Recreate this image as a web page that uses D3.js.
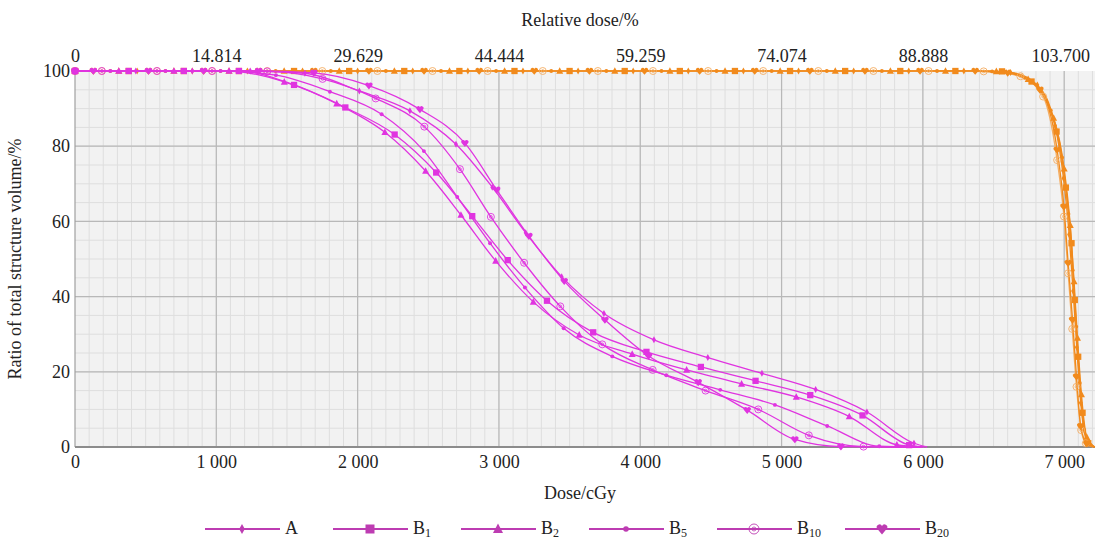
<!DOCTYPE html>
<html>
<head>
<meta charset="utf-8">
<script src="https://cdn.jsdelivr.net/npm/d3@7"></script>
<style>
  body { margin: 0; background: #fff; }
  svg, svg text { font-family: "Liberation Serif", "Times New Roman", Tinos, "DejaVu Serif", serif !important; fill: #222; }
</style>
</head>
<body>
<svg id="chart"></svg>
<script>
// Tick labels
const doseTicks = [0, 1000, 2000, 3000, 4000, 5000, 6000, 7000];
const relTickLabels = ["0", "14.814", "29.629", "44.444", "59.259", "74.074", "88.888", "103.700"];
const volTicks = [0, 20, 40, 60, 80, 100];

// Series names (legend)
const seriesKeys = ["A", "B1", "B2", "B5", "B10", "B20"];
const seriesBase = ["A", "B", "B", "B", "B", "B"];
const seriesSub = ["", "1", "2", "5", "10", "20"];

// Organ at risk curves (magenta) [dose cGy, volume %]
const oarA = [[0,100],[430,100],[830,100],[1240,100],[1627,99.4],[2012,94.7],[2370,89.4],[2696,80.5],[2953,69.1],[3189,57.0],[3444,45.3],[3743,35.5],[4097,28.5],[4478,23.8],[4861,19.6],[5241,15.3],[5604,9.3],[5937,1.0],[6030,0]];
const oarB1 = [[0,100],[380,100],[770,100],[1160,100],[1550,96.3],[1913,90.3],[2262,83.1],[2556,73.0],[2811,61.4],[3062,49.7],[3340,38.9],[3667,30.5],[4044,25.3],[4429,21.3],[4816,17.6],[5203,13.8],[5573,8.4],[5903,0.5],[6010,0]];
const oarB2 = [[0,100],[310,100],[700,100],[1090,100],[1481,97.1],[1852,91.3],[2193,83.7],[2481,73.4],[2731,61.7],[2977,49.5],[3243,38.6],[3568,29.8],[3943,24.7],[4328,20.5],[4717,16.8],[5104,13.3],[5479,8.1],[5816,0.6],[5990,0]];
const oarB5 = [[0,100],[250,100],[640,100],[1030,100],[1422,98.9],[1804,94.5],[2170,88.5],[2469,78.7],[2705,66.5],[2937,54.2],[3184,42.4],[3458,31.6],[3802,24.1],[4184,19.1],[4566,15.2],[4953,11.2],[5323,5.6],[5691,0.2],[5950,0]];
const oarB10 = [[0,100],[190,100],[580,100],[970,100],[1360,99.9],[1752,97.9],[2128,92.7],[2472,85.2],[2724,73.9],[2943,61.2],[3178,49.0],[3434,37.4],[3731,27.3],[4088,20.5],[4462,15.0],[4835,10.0],[5193,3.1],[5580,0.1],[5990,0]];
const oarB20 = [[0,100],[130,100],[520,100],[910,100],[1300,100],[1690,99.5],[2080,96.1],[2441,89.8],[2759,80.8],[2984,68.4],[3212,56.1],[3462,44.1],[3750,33.8],[4059,24.2],[4410,17.2],[4757,9.8],[5094,2.0],[5420,0.1],[5990,0]];

// Target curves (orange)
const ptvA = [[0,100],[440,100],[830,100],[1220,100],[1610,100],[2000,100],[2390,100],[2780,100],[3170,100],[3560,100],[3950,100],[4340,100],[4730,100],[5120,100],[5510,100],[5900,100],[6290,100],[6620,99.6],[6810,96.3],[6935,85.5],[6995,71.5],[7035,56.5],[7063,41.5],[7089,26.5],[7117,11.8],[7158,1.8],[7212,0]];
const ptvB1 = [[0,100],[380,100],[770,100],[1160,100],[1550,100],[1940,100],[2330,100],[2720,100],[3110,100],[3500,100],[3890,100],[4280,100],[4670,100],[5060,100],[5450,100],[5840,100],[6230,100],[6560,99.9],[6769,97.2],[6946,83.9],[7012,69.0],[7052,54.2],[7075,39.1],[7099,24.0],[7130,9.1],[7170,1.0],[7218,0]];
const ptvB2 = [[0,100],[310,100],[700,100],[1090,100],[1480,100],[1870,100],[2260,100],[2650,100],[3040,100],[3430,100],[3820,100],[4210,100],[4600,100],[4990,100],[5380,100],[5770,100],[6160,100],[6520,99.9],[6745,97.8],[6925,87.5],[7000,74.0],[7043,59.0],[7070,44.0],[7094,29.0],[7122,14.0],[7160,2.6],[7216,0]];
const ptvB5 = [[0,100],[250,100],[640,100],[1030,100],[1420,100],[1810,100],[2200,100],[2590,100],[2980,100],[3370,100],[3760,100],[4150,100],[4540,100],[4930,100],[5320,100],[5710,100],[6100,100],[6490,99.9],[6720,98.2],[6905,89.5],[6985,77.0],[7030,62.0],[7060,47.0],[7085,32.0],[7110,17.0],[7142,4.5],[7214,0]];
const ptvB10 = [[0,100],[190,100],[580,100],[970,100],[1360,100],[1750,100],[2140,100],[2530,100],[2920,100],[3310,100],[3700,100],[4090,100],[4480,100],[4870,100],[5260,100],[5650,100],[6040,100],[6430,99.9],[6690,98.6],[6851,93.2],[6950,76.3],[6998,61.3],[7028,46.2],[7057,31.4],[7087,16.0],[7120,4.5],[7153,1.0],[7205,0]];
const ptvB20 = [[0,100],[130,100],[520,100],[910,100],[1300,100],[1690,100],[2080,100],[2470,100],[2860,100],[3250,100],[3640,100],[4030,100],[4420,100],[4810,100],[5200,100],[5590,100],[5980,100],[6370,100],[6600,99.5],[6828,95.0],[6950,79.0],[6998,63.9],[7028,48.9],[7059,33.8],[7087,18.7],[7117,5.5],[7160,0.9],[7210,0]];

const oarSeries = [oarA, oarB1, oarB2, oarB5, oarB10, oarB20];
const ptvSeries = [ptvA, ptvB1, ptvB2, ptvB5, ptvB10, ptvB20];

const W = 1097, H = 539;
const magenta = "#e034e0", orange = "#f18a1c";
const serif = "'Liberation Serif', 'Times New Roman', Tinos, 'DejaVu Serif', serif";

const svg = d3.select("#chart").attr("width", W).attr("height", H)
    .attr("font-family", serif);

const x = d3.scaleLinear().domain([0, 7218]).range([75, 1095]);
const y = d3.scaleLinear().domain([0, 100]).range([447, 71]);

// plot background
svg.append("rect")
    .attr("x", x(0)).attr("y", y(100))
    .attr("width", x(7218) - x(0)).attr("height", y(0) - y(100))
    .attr("fill", "#f2f2f2");

// minor grid
const grid = svg.append("g");
grid.selectAll(".vminor").data(d3.range(100, 7201, 100)).enter().append("line")
    .attr("x1", d => x(d)).attr("x2", d => x(d))
    .attr("y1", y(0)).attr("y2", y(100))
    .attr("stroke", "#dedede").attr("stroke-width", 1);
grid.selectAll(".hminor").data(d3.range(5, 100, 5)).enter().append("line")
    .attr("x1", x(0)).attr("x2", x(7218))
    .attr("y1", d => y(d)).attr("y2", d => y(d))
    .attr("stroke", "#dedede").attr("stroke-width", 1);
// major grid
grid.selectAll(".vmajor").data(doseTicks.slice(1)).enter().append("line")
    .attr("x1", d => x(d)).attr("x2", d => x(d))
    .attr("y1", y(0)).attr("y2", y(100))
    .attr("stroke", "#b8b8b8").attr("stroke-width", 1.2);
grid.selectAll(".hmajor").data(volTicks.slice(1, -1)).enter().append("line")
    .attr("x1", x(0)).attr("x2", x(7218))
    .attr("y1", d => y(d)).attr("y2", d => y(d))
    .attr("stroke", "#b8b8b8").attr("stroke-width", 1.2);

// axis frame lines
svg.append("line").attr("x1", x(0)).attr("x2", x(0)).attr("y1", y(0)).attr("y2", y(100))
    .attr("stroke", "#a0a0a0").attr("stroke-width", 1.2);
svg.append("line").attr("x1", x(0)).attr("x2", x(7218)).attr("y1", y(0)).attr("y2", y(0))
    .attr("stroke", "#8c8c8c").attr("stroke-width", 2);

// axes
const fmtDose = d => d3.format(",")(d).replace(/,/g, " ");
const xAxis = svg.append("g")
    .attr("transform", `translate(0,${y(0)})`)
    .call(d3.axisBottom(x).tickValues(doseTicks).tickFormat(fmtDose).tickSize(0).tickPadding(8));
const topAxis = svg.append("g")
    .attr("transform", `translate(0,${y(100) - 4})`)
    .call(d3.axisTop(x).tickValues(doseTicks).tickFormat((d, i) => relTickLabels[i]).tickSize(0).tickPadding(5));
const yAxis = svg.append("g")
    .attr("transform", `translate(${x(0) - 3},0)`)
    .call(d3.axisLeft(y).tickValues(volTicks).tickSize(0).tickPadding(2));
[xAxis, topAxis, yAxis].forEach(a => {
    a.attr("font-family", serif).attr("font-size", 18);
    a.select(".domain").remove();
    a.selectAll("text").style("font-size", "18px").attr("fill", "#222");
});
topAxis.selectAll("text").filter((d, i) => i === relTickLabels.length - 1).attr("dx", -4);

// axis titles
svg.append("text").attr("x", 580).attr("y", 26).attr("text-anchor", "middle")
    .style("font-size", "18px").text("Relative dose/%");
svg.append("text").attr("x", 580).attr("y", 499).attr("text-anchor", "middle")
    .style("font-size", "18px").text("Dose/cGy");
svg.append("text").attr("transform", `translate(21,${(y(0) + y(100)) / 2}) rotate(-90)`)
    .attr("text-anchor", "middle").style("font-size", "18px")
    .text("Ratio of total structure volume/%");

// marker shapes
const heartPath = s => `M0,${s * 0.55} L${-s * 0.5},${-s * 0.05} A${s * 0.25},${s * 0.25} 0 0,1 0,${-s * 0.3} A${s * 0.25},${s * 0.25} 0 0,1 ${s * 0.5},${-s * 0.05} Z`;
function drawMarker(g, idx, color, s) {
    if (idx === 0) {
        g.append("path").attr("d", `M0,${-s * 0.5} L${s * 0.28},0 L0,${s * 0.5} L${-s * 0.28},0 Z`).attr("fill", color);
    } else if (idx === 1) {
        g.append("rect").attr("x", -s * 0.45).attr("y", -s * 0.45).attr("width", s * 0.9).attr("height", s * 0.9).attr("fill", color);
    } else if (idx === 2) {
        g.append("path").attr("d", `M0,${-s * 0.55} L${s * 0.5},${s * 0.4} L${-s * 0.5},${s * 0.4} Z`).attr("fill", color);
    } else if (idx === 3) {
        g.append("circle").attr("r", s * 0.28).attr("fill", color);
    } else if (idx === 4) {
        g.append("circle").attr("r", s * 0.5).attr("fill", "none").attr("stroke", color).attr("stroke-width", 0.9);
        g.append("circle").attr("r", s * 0.2).attr("fill", "none").attr("stroke", color).attr("stroke-width", 0.8);
    } else {
        g.append("path").attr("d", heartPath(s)).attr("fill", color);
    }
}

const line = d3.line().x(d => x(d[0])).y(d => y(d[1])).curve(d3.curveMonotoneX);

function drawGroup(seriesList, color, altColor) {
    const g = svg.append("g");
    seriesList.forEach((data, i) => {
        const c = (i === 4 && altColor) ? altColor : color;
        g.append("path").datum(data)
            .attr("d", line)
            .attr("fill", "none")
            .attr("stroke", c)
            .attr("stroke-width", 1.3);
    });
    seriesList.forEach((data, i) => {
        const c = (i === 4 && altColor) ? altColor : color;
        data.slice(0, -1).forEach(d => {
            const m = g.append("g").attr("transform", `translate(${x(d[0])},${y(d[1])})`);
            drawMarker(m, i, c, 7);
        });
    });
}

drawGroup(ptvSeries, orange, "#f4ad62");
drawGroup(oarSeries, magenta, null);

// legend
const legendColor = "#bd3cb2";
const legend = svg.append("g");
seriesKeys.forEach((k, i) => {
    const x0 = 205 + i * 128;
    const ly = 529;
    const g = legend.append("g");
    g.append("line").attr("x1", x0).attr("x2", x0 + 75).attr("y1", ly).attr("y2", ly)
        .attr("stroke", legendColor).attr("stroke-width", 2);
    const m = g.append("g").attr("transform", `translate(${x0 + 37},${ly})`);
    drawMarker(m, i, legendColor, 10);
    const t = g.append("text").attr("x", x0 + 80).attr("y", ly + 5).style("font-size", "18px");
    t.append("tspan").text(seriesBase[i]);
    if (seriesSub[i]) {
        t.append("tspan").attr("dy", 3).style("font-size", "12px").text(seriesSub[i]);
    }
});
</script>
</body>
</html>
